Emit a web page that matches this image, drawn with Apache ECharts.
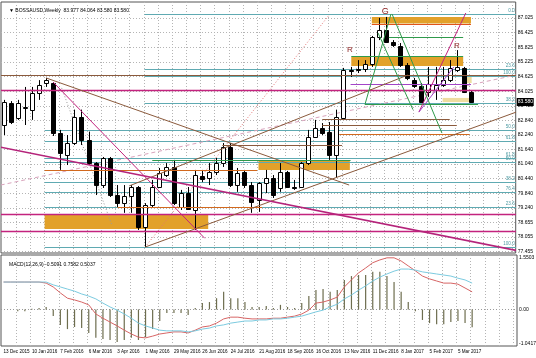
<!DOCTYPE html>
<html><head><meta charset="utf-8">
<script src="https://cdn.jsdelivr.net/npm/echarts@6/dist/echarts.min.js"></script>
<style>html,body{margin:0;padding:0;background:#fff}#c{width:536px;height:358px}</style>
</head><body><div id="c"></div>
<script>
// ---- data ----
const dateLabels = ['13 Dec 2015','10 Jan 2016','7 Feb 2016','6 Mar 2016','3 Apr 2016','1 May 2016','29 May 2016','26 Jun 2016','24 Jul 2016','21 Aug 2016','18 Sep 2016','16 Oct 2016','13 Nov 2016','11 Dec 2016','8 Jan 2017','5 Feb 2017','5 Mar 2017'];
const opens = [82.64,83.54,82.93,83.34,83.27,83.95,84.36,84.36,82.31,81.41,81.90,82.97,82.03,81.08,80.18,81.29,79.77,79.44,79.73,80.10,78.46,79.36,80.10,80.59,80.92,79.28,79.85,79.16,80.55,80.47,80.71,81.08,81.74,80.18,80.71,80.18,79.57,80.26,80.47,80.06,80.71,80.10,80.10,81.08,82.15,82.52,82.37,81.41,82.93,84.89,84.94,84.94,85.14,86.25,86.53,86.04,85.88,85.10,84.48,84.24,83.99,84.08,84.28,84.48,84.89,84.98,83.977];
const closes = [83.58,82.76,83.54,83.38,83.95,84.28,84.48,82.31,81.49,81.90,82.97,82.03,81.08,80.18,81.29,79.77,79.44,79.73,80.10,78.46,79.36,80.10,80.67,80.92,79.44,79.85,79.20,80.59,80.43,80.71,81.08,81.74,80.18,80.67,80.18,79.49,80.26,80.47,79.77,80.71,80.10,80.06,81.08,82.15,82.52,82.31,81.41,82.97,84.89,84.85,84.89,85.14,86.25,86.53,86.04,85.92,85.10,84.57,84.24,83.58,84.32,84.28,84.48,84.98,85.02,84.00,83.58];
const lows = [82.23,82.68,82.85,82.64,82.85,83.67,84.20,82.19,80.80,81.00,81.82,81.82,81.00,79.77,80.06,79.69,79.28,79.04,79.04,78.34,77.64,79.28,80.06,80.51,79.36,79.16,79.16,78.34,80.30,80.18,80.59,80.92,80.10,79.90,80.06,79.04,79.08,79.85,79.65,79.90,80.06,79.98,80.06,81.00,82.11,82.23,81.21,80.47,82.85,84.61,84.77,84.81,85.02,86.12,86.00,85.84,85.02,84.48,84.16,83.54,83.79,83.67,84.20,84.40,84.81,83.95,83.58];
const highs = [83.67,83.62,83.67,84.20,84.20,84.48,84.57,84.40,82.44,82.23,83.27,83.27,82.37,81.12,81.33,81.33,80.18,80.18,80.18,80.14,79.44,80.39,80.88,81.08,81.21,79.98,80.10,80.80,80.80,81.08,81.29,81.90,81.90,80.88,80.80,80.30,80.30,80.80,80.59,81.08,80.76,80.39,81.12,82.44,82.85,82.72,82.76,83.27,84.98,85.02,85.30,85.30,86.29,87.03,87.07,86.12,86.00,85.18,84.57,84.36,85.02,85.02,85.02,85.30,85.71,85.02,84.064];
const macdLine = [0.78,0.78,0.78,0.78,0.78,0.78,0.75,0.64,0.47,0.32,0.27,0.21,0.13,-0.13,-0.25,-0.36,-0.47,-0.59,-0.70,-0.79,-0.81,-0.76,-0.70,-0.67,-0.64,-0.64,-0.67,-0.59,-0.50,-0.47,-0.39,-0.27,-0.22,-0.22,-0.25,-0.27,-0.27,-0.27,-0.25,-0.25,-0.22,-0.19,-0.13,-0.02,0.18,0.21,0.27,0.35,0.64,0.84,1.04,1.18,1.33,1.41,1.47,1.47,1.38,1.24,1.10,0.95,0.87,0.81,0.75,0.75,0.72,0.61,0.50];
const signalLine = [0.78,0.78,0.78,0.78,0.78,0.78,0.78,0.70,0.64,0.58,0.52,0.44,0.38,0.30,0.18,0.07,-0.02,-0.13,-0.25,-0.39,-0.47,-0.53,-0.59,-0.61,-0.61,-0.61,-0.64,-0.61,-0.56,-0.53,-0.47,-0.44,-0.39,-0.36,-0.33,-0.33,-0.30,-0.30,-0.27,-0.27,-0.25,-0.22,-0.19,-0.13,-0.07,-0.02,0.07,0.15,0.30,0.41,0.55,0.67,0.81,0.92,1.01,1.09,1.15,1.15,1.12,1.07,1.04,1.01,0.98,0.95,0.89,0.84,0.75];
const histogram = [0,0,-0.05,-0.05,0.02,0.04,0.07,-0.19,-0.44,-0.56,-0.50,-0.53,-0.67,-0.81,-0.84,-0.87,-0.93,-0.87,-0.81,-0.87,-0.79,-0.56,-0.33,-0.10,-0.10,-0.10,-0.16,0.04,0.18,0.21,0.32,0.50,0.32,0.32,0.21,0.07,0.07,0.10,0.04,0.13,0.07,0.04,0.18,0.38,0.55,0.58,0.50,0.55,0.84,0.95,0.98,0.98,1.07,1.07,0.95,0.78,0.50,0.21,-0.05,-0.30,-0.39,-0.42,-0.42,-0.36,-0.33,-0.39,-0.51];
const priceTicks = [87.025,86.425,85.825,85.225,84.625,84.025,83.425,82.840,82.240,81.640,81.040,80.440,79.840,79.240,78.655,78.055,77.455];
const macdTicks = [1.5503,0,-1.0417];
const macdTickLabels = ['1.5503','0.00','-1.0417'];
const macdHeader = 'MACD(12,26,9) -0.5091 0.7582 0.5037';
const symbolName = 'BOSSAUSD,Weekly';

// annotations (bar index, price)
const fibLabels = ['0.0','23.6','100.0','38.2','50.0','61.8','61.8','50.0','38.2','76.4','23.6','100.0'];
const fibPrices = [87.19,84.94,84.65,83.54,82.44,81.98,81.29,81.14,80.30,79.89,79.28,77.64];
const fibStarts = [19.9,19.9,19.9,19.9,5.8,5.8,5.8,5.8,5.8,5.8,5.8,5.8];
const magentaLevels = [[-0.4,72.4,84.075],[-0.4,72.4,78.99],[-0.4,72.4,78.30]];
const purpleLevels = [[49,66,84.32]];
const brownLevels = [[-0.4,72.4,84.69],[30.9,47.8,81.82],[45,63,82.89],[45,64,82.64]];
const chocoLevels = [[5.8,35.8,80.80],[16.1,36.5,79.28],[47.4,65.8,82.27]];
const redLevels = [[52,66,86.78]];
const greenLevels = [[21,49,81.21],[49.1,64.9,85.47],[54.4,64.9,86.25],[51,67,83.50]];
const zones = [[5.8,28.9,78.99,78.38],[36,48.9,81.17,80.80],[49.1,64.9,85.43,85.06],[52,66,87.07,86.80]];
const paleZones = [[62,65.8,83.75,83.58],[64.9,66.1,84.69,84.36]];
const brownTrends = [[6,84.57,48.8,80.18],[20,77.64,72.4,83.17],[17.8,80.15,57.1,84.69]];
const magentaTrends = [[7,84.40,28.4,78.0],[58.65,83.17,65.27,87.23]];
const magentaMain = [[-0.4,81.73,72.4,77.50]];
const purpleTrends = [[58.65,83.17,63.58,85.02]];
const greenTrends = [[51.05,83.50,54.71,87.19],[54.85,87.19,61.9,82.31],[52.88,86.41,57.81,83.27]];
const pinkDashed = [[-0.4,80.18,72.4,84.69]];
const redDotted = [[20,77.64,45.98,87.15]];
const grayDotted = [[8.2,84.16,15.3,78.54]];
const patternText = ['G','R','R'];
const patternIdx = [53.9,48.9,64.0];
const patternPrice = [87.31,85.71,85.88];

// ---- chart ----
const FONT = 'Liberation Sans';
const X_MIN = -0.359, X_MAX = 72.317;
const gridXs = []; for (let k = 1; k <= 36; k++) gridXs.push(2 * k - 0.2);
const labelXs = dateLabels.map((d, k) => 4 * k);

function segSeries(segs, color, width, dash, z) {
  return {
    type: 'custom', xAxisIndex: 0, yAxisIndex: 0, clip: true, silent: true, z: z || 4,
    data: segs,
    renderItem: (params, api) => {
      const a = api.coord([api.value(0), api.value(1)]);
      const b = api.coord([api.value(2), api.value(3)]);
      return { type: 'line', shape: { x1: a[0], y1: a[1], x2: b[0], y2: b[1] },
        style: { stroke: color, lineWidth: width, lineDash: dash || null } };
    }
  };
}
function levelSeries(levels, color, width, z) {
  return {
    type: 'custom', xAxisIndex: 0, yAxisIndex: 0, clip: true, silent: true, z: z || 4,
    data: levels,
    renderItem: (params, api) => {
      const a = api.coord([api.value(0), api.value(2)]);
      const b = api.coord([api.value(1), api.value(2)]);
      const y = Math.round(a[1]) + (width % 2 ? 0.5 : 0);
      return { type: 'line', shape: { x1: a[0], y1: y, x2: b[0], y2: y },
        style: { stroke: color, lineWidth: width } };
    }
  };
}
function zoneSeries(rects, color, z) {
  return {
    type: 'custom', xAxisIndex: 0, yAxisIndex: 0, clip: true, silent: true, z: z || 1,
    data: rects,
    renderItem: (params, api) => {
      const a = api.coord([api.value(0), api.value(2)]);
      const b = api.coord([api.value(1), api.value(3)]);
      return { type: 'rect', shape: { x: a[0], y: a[1], width: b[0] - a[0], height: b[1] - a[1] },
        style: { fill: color } };
    }
  };
}

const candleData = opens.map((o, i) => [i, o, closes[i], lows[i], highs[i]]);
const n = opens.length;
const gridLine = { show: true, lineStyle: { color: '#b4b4b4', type: [1, 2], width: 1 } };

const option = {
  animation: false,
  backgroundColor: '#ffffff',
  title: [
    { text: '\u25BC ' + symbolName + '  ' + opens[n-1].toFixed(3) + ' ' + highs[n-1].toFixed(3) + ' ' + lows[n-1].toFixed(3) + ' ' + closes[n-1].toFixed(3),
      left: 4, top: 3, textStyle: { fontSize: 5, fontWeight: 'normal', color: '#000', fontFamily: FONT } },
    { text: macdHeader, left: 4, top: 257, textStyle: { fontSize: 5, fontWeight: 'normal', color: '#000', fontFamily: FONT } }
  ],
  grid: [
    { left: 1, right: 19, top: 2, height: 251, show: true, borderColor: '#555', borderWidth: 1, backgroundColor: 'transparent' },
    { left: 1, right: 19, top: 255, height: 91, show: true, borderColor: '#555', borderWidth: 1, backgroundColor: 'transparent' }
  ],
  xAxis: [
    { type: 'value', gridIndex: 0, min: X_MIN, max: X_MAX, axisLine: { show: false },
      axisTick: { show: false, customValues: gridXs }, axisLabel: { show: false }, splitLine: gridLine },
    { type: 'value', gridIndex: 1, min: X_MIN, max: X_MAX, axisLine: { show: false },
      axisTick: { show: false, customValues: gridXs },
      axisLabel: { show: true, customValues: labelXs, formatter: v => dateLabels[Math.round(v / 4)],
        align: 'left', margin: 3, fontSize: 4.6, color: '#000', fontFamily: FONT },
      splitLine: gridLine }
  ],
  yAxis: [
    { type: 'value', gridIndex: 0, position: 'right', min: 77.395, max: 87.681,
      axisLine: { show: false }, axisTick: { show: false, customValues: priceTicks },
      axisLabel: { customValues: priceTicks, formatter: v => v.toFixed(3), margin: 2, align: 'left',
        fontSize: 5, color: '#000', fontFamily: FONT },
      splitLine: gridLine },
    { type: 'value', gridIndex: 1, position: 'right', min: -1.0417, max: 1.5503,
      axisLine: { show: false }, axisTick: { show: false, customValues: [0] },
      axisLabel: { show: false },
      splitLine: { show: true, lineStyle: { color: '#9a9a9a', type: [1, 2], width: 1 } } }
  ],
  series: [
    zoneSeries(zones, '#E2A12A', 1),
    zoneSeries(paleZones, '#EEDDA0', 1),
    levelSeries(fibPrices.map((p, k) => [fibStarts[k], X_MAX + 1, p]), '#5FAAB2', 1, 2),
    levelSeries(magentaLevels, '#C3237E', 1.5, 4),
    levelSeries(purpleLevels, '#A244C8', 1, 4),
    levelSeries(brownLevels, '#8B5A3C', 1, 4),
    levelSeries(chocoLevels, '#D2691E', 1, 4),
    levelSeries(redLevels, '#E0531A', 1, 4),
    levelSeries(greenLevels, '#2F9A4B', 1, 4),
    segSeries(pinkDashed, '#D9A3BC', 1, [4, 3], 2),
    segSeries(redDotted, '#E57373', 1, [1, 2], 2),
    segSeries(grayDotted, '#9a9a9a', 1, [1, 2], 2),
    {
      type: 'custom', name: 'candles', xAxisIndex: 0, yAxisIndex: 0, clip: true, z: 3,
      data: candleData,
      renderItem: (params, api) => {
        const i = api.value(0), o = api.value(1), c = api.value(2), l = api.value(3), h = api.value(4);
        const po = api.coord([i, o]), pc = api.coord([i, c]), pl = api.coord([i, l]), ph = api.coord([i, h]);
        const x = Math.round(po[0]) + 0.5;
        const top = Math.round(Math.min(po[1], pc[1])) + 0.5;
        const bot = Math.round(Math.max(po[1], pc[1])) + 0.5;
        const bull = c >= o;
        return { type: 'group', children: [
          { type: 'line', shape: { x1: x, y1: ph[1], x2: x, y2: pl[1] }, style: { stroke: '#000', lineWidth: 1 } },
          { type: 'rect', shape: { x: x - 2, y: top, width: 4, height: Math.max(bot - top, 1) },
            style: { fill: bull ? '#fff' : '#000', stroke: '#000', lineWidth: 1 } }
        ] };
      }
    },
    segSeries(brownTrends, '#8B5A3C', 1, null, 4),
    segSeries(magentaMain, '#B5237A', 1.6, null, 4),
    segSeries(magentaTrends, '#C3237E', 1, null, 4),
    segSeries(purpleTrends, '#A244C8', 1, null, 4),
    segSeries(greenTrends, '#2F9A4B', 1, null, 4),
    {
      type: 'custom', xAxisIndex: 0, yAxisIndex: 0, clip: false, silent: true, z: 5,
      data: fibPrices.map((p, k) => [k, p]),
      renderItem: (params, api) => {
        const cs = params.coordSys;
        const y = api.coord([0, api.value(1)])[1];
        return { type: 'text', style: { text: fibLabels[api.value(0)], x: cs.x + cs.width - 1, y: y - 0.5,
          align: 'right', verticalAlign: 'bottom', fill: '#4E9BA3', font: '4.6px ' + FONT } };
      }
    },
    {
      type: 'custom', xAxisIndex: 0, yAxisIndex: 0, clip: false, silent: true, z: 5,
      data: patternText.map((t, k) => [patternIdx[k], patternPrice[k], k]),
      renderItem: (params, api) => {
        const p = api.coord([api.value(0), api.value(1)]);
        return { type: 'text', style: { text: patternText[api.value(2)], x: p[0], y: p[1],
          align: 'center', verticalAlign: 'middle', fill: '#8B1E1E', font: (api.value(2) === 0 ? '9px ' : '8px ') + FONT } };
      }
    },
    {
      type: 'custom', xAxisIndex: 0, yAxisIndex: 0, clip: false, silent: true, z: 10,
      data: [[n - 1, closes[n - 1]]],
      renderItem: (params, api) => {
        const cs = params.coordSys;
        const y = api.coord([api.value(0), api.value(1)])[1];
        const x = cs.x + cs.width + 1;
        return { type: 'group', children: [
          { type: 'rect', shape: { x: x, y: Math.round(y) - 4, width: 17, height: 8 }, style: { fill: '#000' } },
          { type: 'text', style: { text: api.value(1).toFixed(3), x: x + 1, y: Math.round(y), align: 'left',
            verticalAlign: 'middle', fill: '#fff', font: '5px ' + FONT } }
        ] };
      }
    },
    {
      type: 'custom', xAxisIndex: 1, yAxisIndex: 1, clip: false, silent: true, z: 5,
      data: macdTicks.map((v, k) => [0, v, k]),
      renderItem: (params, api) => {
        const cs = params.coordSys;
        const k = api.value(2);
        const y = api.coord([0, api.value(1)])[1];
        const va = k === 0 ? 'top' : (k === macdTicks.length - 1 ? 'bottom' : 'middle');
        return { type: 'text', style: { text: macdTickLabels[k], x: cs.x + cs.width + 2, y: y + (k === 0 ? 0.5 : 0),
          align: 'left', verticalAlign: va, fill: '#000', font: '5px ' + FONT } };
      }
    },
    { type: 'bar', xAxisIndex: 1, yAxisIndex: 1, barWidth: 1.2, data: histogram.map((v, i) => [i, v]),
      itemStyle: { color: '#6D6D4E' }, silent: true, z: 2 },
    { type: 'line', xAxisIndex: 1, yAxisIndex: 1, data: macdLine.map((v, i) => [i, v]), symbol: 'none',
      lineStyle: { color: '#D76565', width: 1 }, silent: true, z: 3 },
    { type: 'line', xAxisIndex: 1, yAxisIndex: 1, data: signalLine.map((v, i) => [i, v]), symbol: 'none',
      lineStyle: { color: '#7CCBE0', width: 1 }, silent: true, z: 3 }
  ]
};
const chart = echarts.init(document.getElementById('c'), null, { renderer: 'canvas' });
chart.setOption(option);
</script>
</body></html>
